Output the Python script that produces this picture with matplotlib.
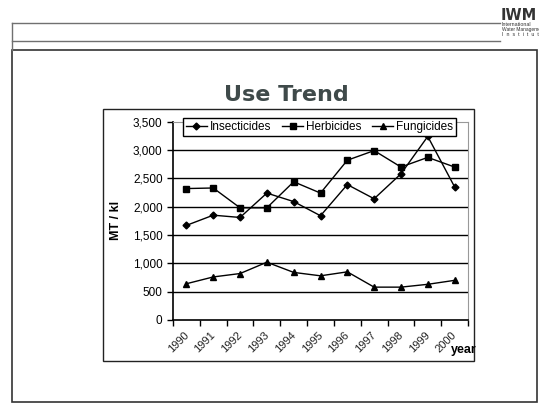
import matplotlib.pyplot as plt
from matplotlib.lines import Line2D
from matplotlib.patches import Rectangle
from matplotlib.transforms import ScaledTranslation

years = ["1990", "1991", "1992", "1993", "1994", "1995",
         "1996", "1997", "1998", "1999", "2000"]
insecticides = [1670, 1850, 1810, 2240, 2090, 1840, 2390, 2140, 2580, 3240, 2350]
herbicides = [2320, 2330, 1980, 1980, 2440, 2240, 2820, 2990, 2700, 2870, 2700]
fungicides = [640, 760, 820, 1020, 840, 780, 850, 580, 580, 630, 700]
yticks = [0, 500, 1000, 1500, 2000, 2500, 3000, 3500]

W, H = 539, 408
plt.rcParams['font.family'] = ['Liberation Sans', 'DejaVu Sans']

fig = plt.figure(figsize=(W / 100, H / 100), dpi=100)


def fx(x):
    return x / W


def fy(y):
    return 1 - y / H


def hline(y, x0, x1, color="#707070", lw=1.0):
    fig.add_artist(Line2D([fx(x0), fx(x1)], [fy(y), fy(y)], color=color, lw=lw,
                          transform=fig.transFigure))


# slide frame
hline(23, 12.5, 500)
hline(41, 12.5, 500)
fig.add_artist(Line2D([fx(12.5), fx(12.5)], [fy(23), fy(50)], color="#707070", lw=1.0,
                      transform=fig.transFigure))
fig.add_artist(Rectangle((fx(12.5), fy(402)), fx(537) - fx(12.5), fy(50) - fy(402),
                         fill=False, ec="#333333", lw=1.2, transform=fig.transFigure))

# logo (cut off at the right edge, as in the slide)
fig.text(fx(501), fy(20), "IWM", fontsize=10.5, fontweight="bold", color="#333333",
         family="DejaVu Sans", ha="left", va="baseline")
fig.text(fx(502), fy(26), "International", fontsize=3.8, color="#333333", va="baseline")
fig.text(fx(502), fy(31), "Water Management", fontsize=3.5, color="#333333", va="baseline")
fig.text(fx(502), fy(36.5), "I  n  s  t  i  t  u  t  e", fontsize=3.8, color="#333333",
         va="baseline")

# title
fig.text(fx(286), fy(95), "Use Trend", fontsize=16, fontweight="bold",
         family="DejaVu Sans", color="#3f4a4a", ha="center", va="center")

# chart frame
fig.add_artist(Rectangle((fx(103), fy(361)), fx(474) - fx(103), fy(109) - fy(361),
                         fill=False, ec="#222222", lw=1.0, transform=fig.transFigure))

ax = fig.add_axes([fx(173), fy(320), fx(468) - fx(173), fy(121.7) - fy(320)])
x = list(range(len(years)))
ax.plot(x, insecticides, color="black", lw=1, marker="D", ms=3.5, label="Insecticides")
ax.plot(x, herbicides, color="black", lw=1, marker="s", ms=4, label="Herbicides")
ax.plot(x, fungicides, color="black", lw=1, marker="^", ms=4.5, label="Fungicides")

ax.set_xlim(-0.5, len(years) - 0.5)
ax.set_ylim(0, 3500)
ax.set_yticks(yticks)
ax.set_yticklabels([f"{v:,}" for v in yticks], fontsize=8.5)
for v in yticks[1:-1]:
    ax.axhline(v, color="black", lw=1, zorder=0)

ax.set_xticks([i - 0.5 for i in range(len(years) + 1)])
ax.set_xticklabels([])
ax.set_xticks(x, minor=True)
ax.set_xticklabels(years, minor=True, rotation=45, ha="right", rotation_mode="anchor",
                   fontsize=8, color="#222222")
ax.tick_params(axis="x", which="minor", length=0, pad=7)
ax.tick_params(axis="both", which="major", length=4, width=1, direction="out")
shift = ScaledTranslation(-3 / 100, 0, fig.dpi_scale_trans)
for lab in ax.get_xticklabels(minor=True):
    lab.set_transform(lab.get_transform() + shift)

ax.spines["top"].set_color("#999999")
ax.spines["right"].set_color("#999999")
ax.spines["left"].set_linewidth(1.2)
ax.spines["bottom"].set_linewidth(1.2)

ax.set_ylabel("MT / kl", fontsize=9, fontweight="bold", labelpad=8)
fig.text(fx(451), fy(353), "year", fontsize=9, fontweight="bold", ha="left", va="baseline")

leg = ax.legend(loc="center", bbox_to_anchor=(0.4966, 0.971), ncol=3, fontsize=8.5,
                frameon=True, fancybox=False, edgecolor="black", framealpha=1,
                handlelength=1.8, handletextpad=0.25, columnspacing=0.9,
                borderpad=0.25, borderaxespad=0)
leg.get_frame().set_linewidth(1.0)

fig.savefig("out.png", dpi=100)
